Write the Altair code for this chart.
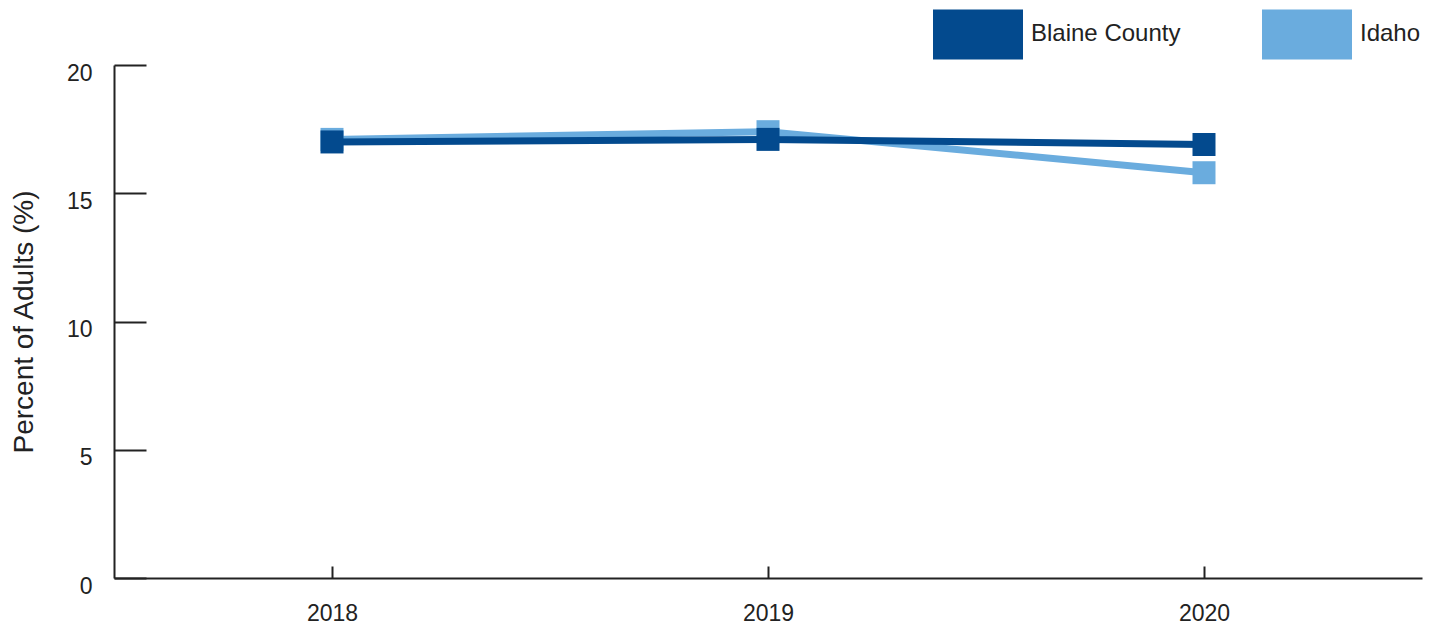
import altair as alt
import pandas as pd

years = ["2018", "2019", "2020"]
blaine = [17.0, 17.1, 16.9]
idaho = [17.1, 17.4, 15.8]
series = ["Blaine County", "Idaho"]
colors = ["#034A8E", "#6AACDE"]
y_ticks = [0, 5, 10, 15, 20]

df_b = pd.DataFrame({"year": years, "value": blaine, "series": series[0]})
df_i = pd.DataFrame({"year": years, "value": idaho, "series": series[1]})

FONT = "Liberation Sans"
TXT = "#222222"
W, H = 1308, 513

legend = alt.Legend(
    title=None, orient="none", legendX=819, legendY=-76, direction="horizontal",
    symbolType="M-1,-0.556L1,-0.556L1,0.556L-1,0.556Z", symbolSize=8100,
    labelFontSize=24, labelFont=FONT, labelColor=TXT, labelOffset=8,
    columnPadding=81, padding=0, symbolStrokeWidth=0, symbolOpacity=1,
)
scale_c = alt.Scale(domain=series, range=colors)
xscale = alt.Scale(type="point", padding=0.5)
yscale = alt.Scale(domain=[0, 20], nice=False)

x_axis_a = alt.Axis(orient="bottom", ticks=False, domain=True, domainColor=TXT, domainWidth=2,
                    labelFont=FONT, labelFontSize=23, labelColor=TXT, labelPadding=24,
                    labelAngle=0, title=None, grid=False)
x_axis_b = alt.Axis(orient="bottom", offset=-12, ticks=True, tickSize=12, tickWidth=2,
                    tickColor=TXT, labels=False, domain=False, title=None, grid=False)
y_axis_a = alt.Axis(orient="left", values=y_ticks, ticks=False, domain=True, domainColor=TXT,
                    domainWidth=2, labelFont=FONT, labelFontSize=23, labelColor=TXT,
                    labelPadding=22, labelOffset=8, grid=False,
                    title="Percent of Adults (%)", titleFont=FONT, titleFontSize=28,
                    titleFontWeight="normal", titleColor=TXT, titleX=-90, titleY=H / 2,
                    titleAngle=270, titleAlign="center", titleBaseline="middle")
y_axis_b = alt.Axis(orient="left", values=y_ticks, offset=-32, ticks=True, tickSize=32,
                    tickWidth=2, tickColor=TXT, labels=False, domain=False, title=None, grid=False)


def layer(mark, xa, ya):
    return mark.encode(
        x=alt.X("year:O", scale=xscale, axis=xa),
        y=alt.Y("value:Q", scale=yscale, axis=ya),
        color=alt.Color("series:N", scale=scale_c, legend=legend),
    )


l1 = layer(alt.Chart(df_i).mark_line(strokeWidth=7), x_axis_a, y_axis_a)
l2 = layer(alt.Chart(df_i).mark_square(size=529, opacity=1), x_axis_b, y_axis_b)
l3 = layer(alt.Chart(df_b).mark_line(strokeWidth=7), None, None)
l4 = layer(alt.Chart(df_b).mark_square(size=529, opacity=1), None, None)

chart = alt.layer(l1, l2, l3, l4).resolve_axis(x="independent", y="independent").properties(
    width=W, height=H,
    autosize=alt.AutoSizeParams(type="none"),
    padding={"left": 106, "top": 57, "right": 8, "bottom": 50},
).configure_view(stroke=None)

chart.save("out.html", embed_options={"renderer": "svg", "actions": False})
